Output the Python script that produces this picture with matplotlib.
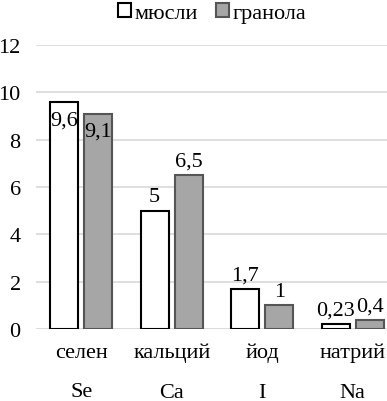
import numpy as np
import matplotlib.pyplot as plt

plt.rcParams['font.family'] = ['Liberation Serif', 'DejaVu Serif']

elements = ['селен', 'кальций', 'йод', 'натрий']
symbols = ['Se', 'Ca', 'I', 'Na']
muesli = [9.6, 5, 1.7, 0.23]
granola = [9.1, 6.5, 1, 0.4]
muesli_labels = ['9,6', '5', '1,7', '0,23']
granola_labels = ['9,1', '6,5', '1', '0,4']

fig = plt.figure(figsize=(3.87, 4.02), dpi=100)
ax = fig.add_axes([36/387, 1-330/402, 362/387, 284/402])

x = np.arange(len(elements))
w = 0.31
b1 = ax.bar(x - 0.19, muesli, w, color='white', edgecolor='black', linewidth=1.5,
            label='мюсли', zorder=3)
b2 = ax.bar(x + 0.19, granola, w, color='#a6a6a6', edgecolor='#555555', linewidth=1.5,
            label='гранола', zorder=3)

fs = 16
for bars, labels in [(b1, muesli_labels), (b2, granola_labels)]:
    for i, (rect, lab) in enumerate(zip(bars, labels)):
        cx = rect.get_x() + rect.get_width() / 2
        top = rect.get_height()
        if i == 0:
            # labels of the first group sit inside the bars
            ax.annotate(lab, (cx, top), xytext=(0, -6), textcoords='offset points',
                        ha='center', va='top', fontsize=fs, zorder=4)
        else:
            ax.annotate(lab, (cx, top), xytext=(0, 3), textcoords='offset points',
                        ha='center', va='bottom', fontsize=fs, zorder=4)

ax.set_xlim(-0.5, 3.5)
ax.set_ylim(0, 12)
ax.set_yticks(range(0, 13, 2))
ax.yaxis.grid(True, color='#d9d9d9', linewidth=1.2, zorder=0)
ax.set_axisbelow(True)
for s in ax.spines.values():
    s.set_visible(False)
ax.axhline(0, color='#d9d9d9', linewidth=1.2, zorder=1)

ax.set_xticks(x)
ax.set_xticklabels([f'{e}\n{s}' for e, s in zip(elements, symbols)], linespacing=2.45)
ax.tick_params(axis='x', length=0, pad=10, labelsize=fs)
ax.tick_params(axis='y', length=0, pad=11, labelsize=fs)

fig.legend(loc='upper center', bbox_to_anchor=(212/387, 1.04), ncol=2, frameon=False,
           fontsize=fs, handlelength=0.6, handleheight=0.6, handletextpad=0.15,
           columnspacing=0.8)

fig.savefig('out.png', dpi=100)
